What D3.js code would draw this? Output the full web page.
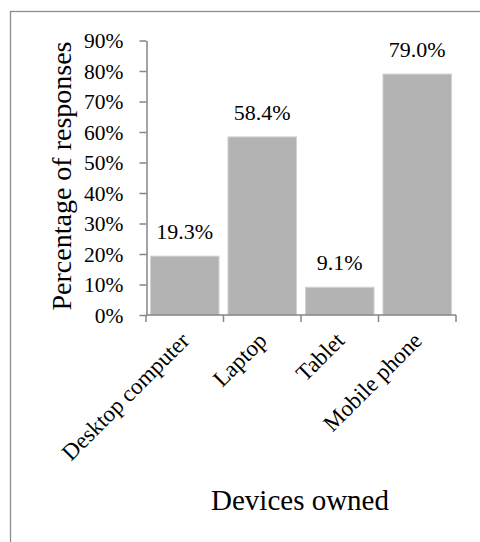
<!DOCTYPE html>
<html>
<head>
<meta charset="utf-8">
<script src="https://cdn.jsdelivr.net/npm/d3@7"></script>
<style>
  body { margin: 0; background: #fff; }
  text { font-family: "Liberation Serif", "Times New Roman", serif; fill: #000; }
</style>
</head>
<body>
<div class="chart"></div>
<script>
var categories = ["Desktop computer", "Laptop", "Tablet", "Mobile phone"];
var values = [19.3, 58.4, 9.1, 79.0];
var yTicks = [0, 10, 20, 30, 40, 50, 60, 70, 80, 90];

var width = 480, height = 542;
var axisColor = "#868686";

var svg = d3.select(".chart").append("svg")
    .attr("width", width)
    .attr("height", height);

// chart area border (right/bottom fall outside the picture)
svg.append("rect")
    .attr("x", 10.5).attr("y", 11.5)
    .attr("width", 500).attr("height", 600)
    .attr("fill", "none")
    .attr("stroke", "#8c8c8c")
    .attr("stroke-width", 1.3);

var x = d3.scaleBand()
    .domain(categories)
    .range([146, 456])
    .paddingInner(0.115)
    .paddingOuter(0.0575);

var y = d3.scaleLinear()
    .domain([0, 90])
    .range([315, 40.5]);

// bars
svg.selectAll(".bar")
    .data(values)
    .enter().append("rect")
      .attr("class", "bar")
      .attr("x", function(d, i) { return x(categories[i]); })
      .attr("width", x.bandwidth())
      .attr("y", function(d) { return y(d); })
      .attr("height", function(d) { return y(0) - y(d); })
      .attr("fill", "#b3b3b3")
      .attr("stroke", "#d4d4d4")
      .attr("stroke-width", 1);

// value labels
svg.selectAll(".val")
    .data(values)
    .enter().append("text")
      .attr("class", "val")
      .attr("x", function(d, i) { return x(categories[i]) + x.bandwidth() / 2; })
      .attr("y", function(d) { return y(d) - 17; })
      .attr("text-anchor", "middle")
      .style("font-size", "22px")
      .text(function(d) { return d.toFixed(1) + "%"; });

// y axis
var yAxis = d3.axisLeft(y)
    .tickValues(yTicks)
    .tickSize(7)
    .tickSizeOuter(0)
    .tickPadding(16)
    .tickFormat(function(d) { return d + "%"; });

var gy = svg.append("g")
    .attr("transform", "translate(146.5,0)")
    .call(yAxis)
    .attr("font-family", "Liberation Serif")
    .attr("font-size", 21.5);
gy.select(".domain").attr("stroke", axisColor).attr("stroke-width", 1.5);
gy.selectAll(".tick line").attr("stroke", axisColor).attr("stroke-width", 1.5);
gy.selectAll(".tick text")
    .attr("dy", "0.34em")
    .attr("fill", "#000");

// x axis: line with ticks at category boundaries
var x0 = x.range()[0], step = x.step();
var gx = svg.append("g");
gx.append("line")
    .attr("x1", x0).attr("x2", x.range()[1])
    .attr("y1", y(0)).attr("y2", y(0))
    .attr("stroke", axisColor).attr("stroke-width", 1.5);
gx.selectAll(".xtick")
    .data(d3.range(categories.length + 1))
    .enter().append("line")
      .attr("x1", function(i) { return x0 + i * step; })
      .attr("x2", function(i) { return x0 + i * step; })
      .attr("y1", y(0)).attr("y2", y(0) + 7)
      .attr("stroke", axisColor).attr("stroke-width", 1.5);

// category labels, rotated
gx.selectAll(".cat")
    .data(categories)
    .enter().append("text")
      .attr("class", "cat")
      .attr("text-anchor", "end")
      .style("font-size", "23px")
      .attr("transform", function(d) {
        return "translate(" + (x(d) + x.bandwidth() / 2 + 6) + "," + (y(0) + 27) + ") rotate(-45)";
      })
      .text(function(d) { return d; });

// axis titles
svg.append("text")
    .attr("transform", "translate(71,176) rotate(-90)")
    .attr("text-anchor", "middle")
    .style("font-size", "28px")
    .text("Percentage of responses");

svg.append("text")
    .attr("x", 300)
    .attr("y", 510)
    .attr("text-anchor", "middle")
    .style("font-size", "29px")
    .text("Devices owned");
</script>
</body>
</html>
